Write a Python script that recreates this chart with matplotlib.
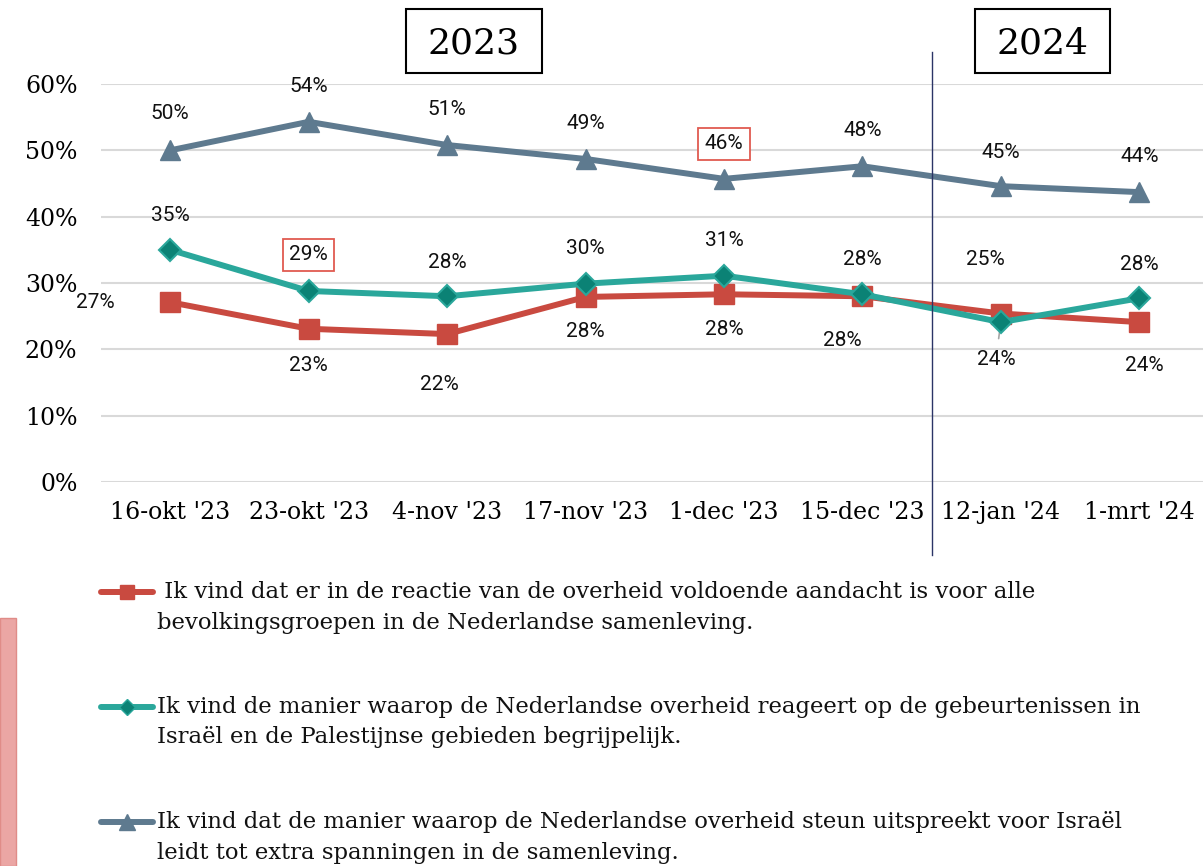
import numpy as np
import matplotlib
matplotlib.use("Agg")
import matplotlib.pyplot as plt
from matplotlib.patches import Rectangle

# ---- data ----
dates = ["16-okt '23", "23-okt '23", "4-nov '23", "17-nov '23",
         "1-dec '23", "15-dec '23", "12-jan '24", "1-mrt '24"]
aandacht = [0.271, 0.231, 0.223, 0.279, 0.283, 0.280, 0.254, 0.241]
begrijpelijk = [0.350, 0.288, 0.280, 0.299, 0.311, 0.283, 0.241, 0.277]
spanningen = [0.500, 0.543, 0.508, 0.487, 0.457, 0.476, 0.446, 0.437]
legend_labels = [
    " Ik vind dat er in de reactie van de overheid voldoende aandacht is voor alle\n"
    "bevolkingsgroepen in de Nederlandse samenleving.",
    "Ik vind de manier waarop de Nederlandse overheid reageert op de gebeurtenissen in\n"
    "Israël en de Palestijnse gebieden begrijpelijk.",
    "Ik vind dat de manier waarop de Nederlandse overheid steun uitspreekt voor Israël\n"
    "leidt tot extra spanningen in de samenleving.",
]
years = ["2023", "2024"]

# label offsets in pixels (dx, dy)
off_red = [(-75, 0), (0, -37), (-8, -50), (0, -35), (0, -35), (-20, -44), (-15, 54), (5, -43)]
off_teal = [(0, 34), (0, 36), (0, 34), (0, 35), (0, 35), (0, 35), (0, 0), (0, 34)]
off_blue = [(0, 37), (0, 35), (0, 36), (0, 35), (0, 35), (0, 36), (0, 34), (0, 36)]
boxed = {("teal", 1), ("blue", 4)}

RED = "#c94a40"
TEAL = "#2aa79b"
TEAL_M = "#0b8275"
BLUE = "#5e7a8f"
SERIF = "DejaVu Serif"
SANS = "Roboto"
LBL = 15

W, H = 1203, 866
fig = plt.figure(figsize=(W / 100, H / 100), dpi=100)
ax = fig.add_axes([101 / W, 1 - 482 / H, (1203 - 101) / W, (482 - 84) / H])

x = np.arange(len(dates))
ax.plot(x, aandacht, color=RED, lw=4.3, marker="s", ms=14, mfc=RED, mec=RED, zorder=3)
ax.plot(x, begrijpelijk, color=TEAL, lw=4.3, marker="D", ms=11, mfc=TEAL_M, mec=TEAL,
        mew=1.5, zorder=4)
ax.plot(x, spanningen, color=BLUE, lw=4.3, marker="^", ms=15, mfc=BLUE, mec=BLUE, zorder=3)

ax.set_xlim(-0.5, 7.46)
ax.set_ylim(0, 0.6)
ax.set_yticks(np.arange(0, 0.61, 0.1))
ax.set_yticklabels([f"{int(round(v * 100))}%" for v in np.arange(0, 0.61, 0.1)],
                   fontsize=17, family=SERIF)
ax.set_xticks(x)
ax.set_xticklabels(dates, fontsize=17, family=SERIF)
ax.tick_params(length=0, axis="y", pad=17)
ax.tick_params(length=0, axis="x", pad=14)
ax.grid(axis="y", color="#d9d9d9", lw=1.5)
ax.set_axisbelow(True)
for s in ax.spines.values():
    s.set_visible(False)

# divider between years
ax.plot([5.5, 5.5], [-0.11, 0.648], color="#2b3466", lw=1, clip_on=False, zorder=5)


def put_labels(vals, offs, name):
    for i, (v, (dx, dy)) in enumerate(zip(vals, offs)):
        kw = dict(textcoords="offset pixels", ha="center", va="center",
                  fontsize=LBL, family=SANS, color="#111111", zorder=6)
        if (name, i) in boxed:
            kw["bbox"] = dict(boxstyle="square,pad=0.3", fc="white", ec="#e05a50", lw=1.3)
        ax.annotate(f"{v * 100:.0f}%", (i, v), xytext=(dx, dy), **kw)


put_labels(aandacht, off_red, "red")
put_labels(spanningen, off_blue, "blue")
put_labels(begrijpelijk, off_teal[:6], "teal")
ax.annotate(f"{begrijpelijk[7] * 100:.0f}%", (7, begrijpelijk[7]), xytext=(0, 34),
            textcoords="offset pixels", ha="center", va="center", fontsize=LBL,
            family=SANS, color="#111111")
# 12-jan teal label with leader line
ax.annotate(f"{begrijpelijk[6] * 100:.0f}%", (6, begrijpelijk[6]), xytext=(-5, -37),
            textcoords="offset pixels", ha="center", va="center", fontsize=LBL,
            family=SANS, color="#111111",
            arrowprops=dict(arrowstyle="-", color="#a6a6a6", lw=1.2, shrinkA=6, shrinkB=4))

# overlay in pixel coords for boxes and legend
ov = fig.add_axes([0, 0, 1, 1], zorder=10)
ov.set_xlim(0, W)
ov.set_ylim(H, 0)
ov.axis("off")
ov.patch.set_alpha(0)

for (x0, x1), yr in zip([(406, 542), (975, 1110)], years):
    ov.add_patch(Rectangle((x0, 9), x1 - x0, 64, fc="white", ec="black", lw=1.5))
    ov.text((x0 + x1) / 2, 43, yr, ha="center", va="center", fontsize=26, family=SERIF)

# pink side bar
ov.add_patch(Rectangle((0, 618), 16, 248, fc="#eba6a4", ec="#e08c88", lw=1))

# legend
styles = [(RED, "s", RED, 10), (TEAL, "D", TEAL_M, 8), (BLUE, "^", BLUE, 11)]
for k, (lab, (c, m, mf, ms)) in enumerate(zip(legend_labels, styles)):
    y0 = 592 + k * 115
    ov.plot([101, 153], [y0, y0], color=c, lw=4.3, solid_capstyle="round")
    ov.plot([127], [y0], marker=m, ms=ms, mfc=mf, mec=c, color=c)
    ov.text(157, y0 - 11, lab, ha="left", va="top", fontsize=16.4, family=SERIF,
            linespacing=1.5, color="#111111")

fig.savefig("out.png", dpi=100)
